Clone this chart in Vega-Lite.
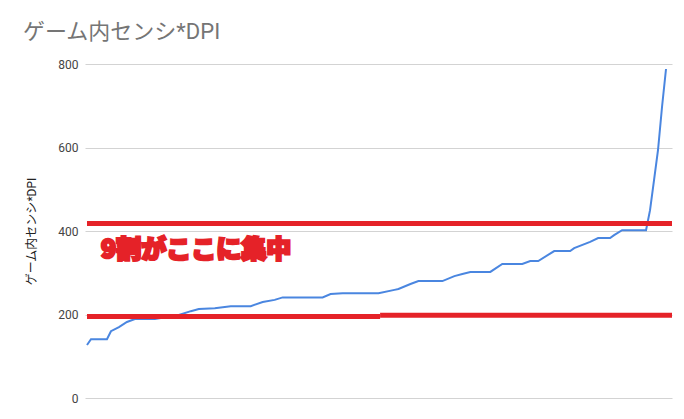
{
  "$schema": "https://vega.github.io/schema/vega-lite/v6.json",
  "autosize": "none",
  "width": 587,
  "height": 334,
  "padding": {"left": 85, "top": 64, "right": 12, "bottom": 21},
  "background": "white",
  "title": {
    "text": "ゲーム内センシ*DPI",
    "anchor": "start",
    "frame": "group",
    "dx": -62,
    "offset": 14,
    "font": "Roboto, Noto Sans CJK JP",
    "fontSize": 22,
    "fontWeight": "normal",
    "color": "#757575"
  },
  "datasets": {
    "sens": [
      {"rank": 1, "value": 127},
      {"rank": 2, "value": 141},
      {"rank": 6, "value": 141},
      {"rank": 7, "value": 160},
      {"rank": 9, "value": 170},
      {"rank": 11, "value": 182},
      {"rank": 13, "value": 189},
      {"rank": 18, "value": 189},
      {"rank": 24, "value": 199},
      {"rank": 27, "value": 208},
      {"rank": 29, "value": 213},
      {"rank": 33, "value": 215},
      {"rank": 37, "value": 220},
      {"rank": 42, "value": 220},
      {"rank": 45, "value": 230},
      {"rank": 48, "value": 235},
      {"rank": 50, "value": 241},
      {"rank": 60, "value": 241},
      {"rank": 62, "value": 249},
      {"rank": 65, "value": 251},
      {"rank": 74, "value": 251},
      {"rank": 78, "value": 259},
      {"rank": 79, "value": 261},
      {"rank": 82, "value": 273},
      {"rank": 84, "value": 280},
      {"rank": 90, "value": 280},
      {"rank": 93, "value": 292},
      {"rank": 95, "value": 297},
      {"rank": 97, "value": 302},
      {"rank": 102, "value": 302},
      {"rank": 105, "value": 321},
      {"rank": 110, "value": 321},
      {"rank": 112, "value": 328},
      {"rank": 114, "value": 328},
      {"rank": 118, "value": 352},
      {"rank": 122, "value": 352},
      {"rank": 123, "value": 359},
      {"rank": 127, "value": 374},
      {"rank": 129, "value": 383},
      {"rank": 132, "value": 383},
      {"rank": 133, "value": 390},
      {"rank": 135, "value": 402},
      {"rank": 141, "value": 402},
      {"rank": 142, "value": 450},
      {"rank": 143, "value": 522},
      {"rank": 144, "value": 594},
      {"rank": 145, "value": 697},
      {"rank": 146, "value": 788}
    ],
    "marks": [
      {"start": 1, "end": 147.5, "value": 418},
      {"start": 1, "end": 74.4, "value": 195},
      {"start": 74.4, "end": 147.5, "value": 198.5}
    ],
    "note": [
      {"rank": 28.3, "value": 354, "label": "9割がここに集中"}
    ]
  },
  "layer": [
    {
      "mark": {"type": "rule", "color": "#333333", "strokeWidth": 1},
      "encoding": {
        "y": {"datum": 0, "type": "quantitative"}
      }
    },
    {
      "data": {"name": "sens"},
      "mark": {"type": "line", "color": "#4a86e0", "strokeWidth": 2},
      "encoding": {
        "x": {"field": "rank", "type": "quantitative", "axis": null,
          "scale": {"domain": [0.5, 147.5], "nice": false, "zero": false}},
        "y": {"field": "value", "type": "quantitative",
          "scale": {"domain": [0, 800], "nice": false},
          "axis": {
            "title": "ゲーム内センシ*DPI",
            "values": [0, 200, 400, 600, 800],
            "domain": false,
            "ticks": false,
            "grid": true,
            "gridColor": "#d3d3d3",
            "labelFont": "Roboto",
            "labelFontSize": 12,
            "labelColor": "#444444",
            "labelPadding": 7,
            "titleFont": "Roboto, Noto Sans CJK JP",
            "titleFontSize": 12,
            "titleFontWeight": "normal",
            "titleColor": "#222222",
            "titlePadding": 19
          }}
      }
    },
    {
      "data": {"name": "marks"},
      "mark": {"type": "rule", "color": "#e52228", "strokeWidth": 5},
      "encoding": {
        "x": {"field": "start", "type": "quantitative"},
        "x2": {"field": "end"},
        "y": {"field": "value", "type": "quantitative"}
      }
    },
    {
      "data": {"name": "note"},
      "mark": {"type": "text", "color": "#e52228", "stroke": "#e52228", "strokeWidth": 2.5,
        "strokeJoin": "miter", "font": "Noto Sans CJK JP", "fontSize": 25, "fontWeight": 900,
        "align": "center", "baseline": "middle"},
      "encoding": {
        "x": {"field": "rank", "type": "quantitative"},
        "y": {"field": "value", "type": "quantitative"},
        "text": {"field": "label"}
      }
    }
  ],
  "config": {
    "view": {"stroke": null}
  }
}
